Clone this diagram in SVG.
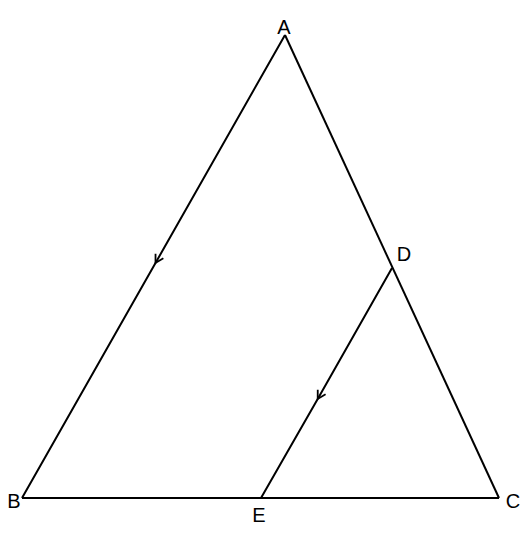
<svg xmlns="http://www.w3.org/2000/svg" width="532" height="533" viewBox="0 0 532 533">
<style>
.edge{fill:none;stroke:#000;stroke-width:2;stroke-linejoin:miter}
.lbl{font-family:"Liberation Sans",Arial,sans-serif;font-size:20px;fill:#000;text-anchor:middle}
</style>
<defs>
<marker id="chev" viewBox="-10 -6 12 12" refX="0" refY="0" markerWidth="12" markerHeight="12" markerUnits="userSpaceOnUse" orient="auto">
<path d="M -8 -4.5 L 0 0 L -8 4.5" fill="none" stroke="#000" stroke-width="1.8"/>
</marker>
</defs>
<g id="connectors">
<path class="edge" d="M 285 35 L 155.5 263 L 22 498"  marker-mid="url(#chev)"/>
<path class="edge" d="M 22 498 L 499 498"/>
<path class="edge" d="M 285 35 L 499 498"/>
<path class="edge" d="M 392 268 L 317.7 399 L 261 498" marker-mid="url(#chev)"/>
</g>
<g id="A"><text class="lbl" x="284" y="34">A</text></g>
<g id="B"><text class="lbl" x="14" y="508">B</text></g>
<g id="C"><text class="lbl" x="513" y="508">C</text></g>
<g id="D"><text class="lbl" x="404" y="261">D</text></g>
<g id="E"><text class="lbl" x="259" y="522">E</text></g>
</svg>
